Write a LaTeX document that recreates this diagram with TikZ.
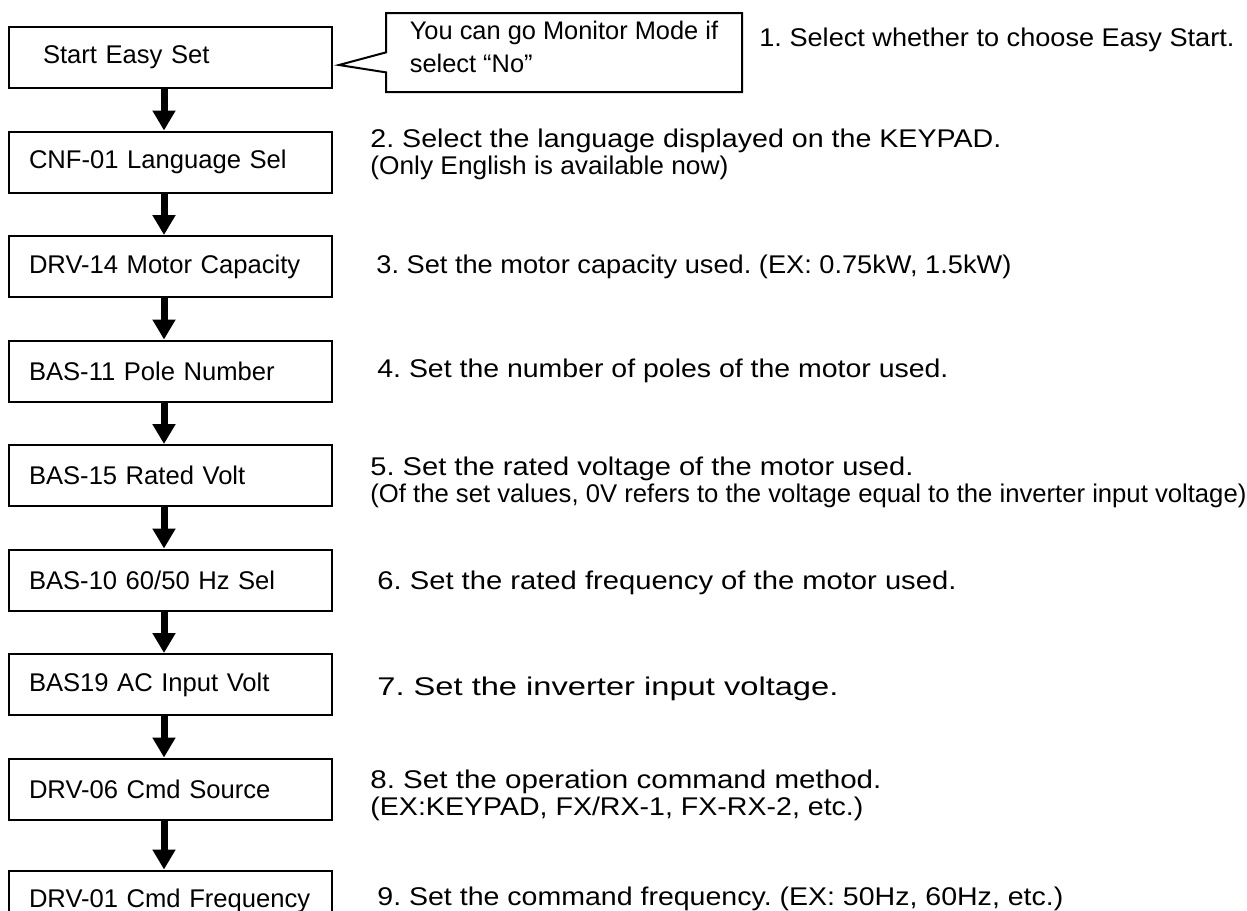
\documentclass[tikz,border=0pt]{standalone}
\usepackage{fontspec}
\usepackage{graphicx}
\setmainfont{Liberation Sans}
\frenchspacing
\usetikzlibrary{arrows.meta, positioning, shapes.callouts}
\newcommand{\fitline}[2]{\resizebox{#1}{\height}{#2}}
\tikzstyle{stepbox} = [rectangle, draw=black, line width=1pt, minimum width=161.5pt, minimum height=30.5pt, text width=141.5pt, inner xsep=10pt, align=left, font=\fontsize{12.8}{15}\selectfont]
\tikzstyle{hint} = [rectangle callout, draw=black, line width=1pt, minimum width=178pt, minimum height=39.5pt, align=left, callout pointer width=10pt, font=\fontsize{12.7}{16.5}\selectfont]
\tikzstyle{note} = [align=left, inner sep=0pt, font=\fontsize{12.8}{13.5}\selectfont]
\tikzstyle{arrow} = [line width=3.5pt, -{Triangle[width=11pt, length=10pt]}]

\begin{document}
\begin{tikzpicture}[x=0.5pt, y=-0.5pt, node distance=20.75pt]
    \useasboundingbox (0,0) rectangle (1247,910);
    \node[stepbox] (start) at (170.5,57.5) {\hspace*{7pt}\raisebox{-2pt}{Start Easy Set}};
    \node[stepbox, below=of start] (lang) {CNF-01 Language Sel};
    \node[stepbox, below=of lang] (cap) {DRV-14 Motor Capacity};
    \node[stepbox, below=of cap] (pole) {BAS-11 Pole Number};
    \node[stepbox, below=of pole] (volt) {BAS-15 Rated Volt};
    \node[stepbox, below=of volt] (hz) {BAS-10 60/50 Hz Sel};
    \node[stepbox, below=of hz] (acin) {BAS19 AC Input Volt};
    \node[stepbox, below=of acin] (src) {DRV-06 Cmd Source};
    \node[stepbox, below=24.5pt of src] (freq) {DRV-01 Cmd Frequency};

    \node[hint, callout absolute pointer={(339,65)}] (monitor) at (564,52.5) {You can go Monitor Mode if\\select “No”\rule[-6pt]{0pt}{0pt}};

    % step notes on the right
    \node[note, right=8pt of monitor, yshift=6.5pt] (n1) {\fitline{237.5pt}{1. Select whether to choose Easy Start.}};
    \node[note, right=18.5pt of lang, yshift=4pt] (n2) {\fitline{315.5pt}{2. Select the language displayed on the KEYPAD.}\\\fitline{179pt}{(Only English is available now)}};
    \node[note, right=21.5pt of cap] (n3) {\fitline{317.5pt}{3. Set the motor capacity used. (EX: 0.75kW, 1.5kW)}};
    \node[note, right=22pt of pole] (n4) {\fitline{285.5pt}{4. Set the number of poles of the motor used.}};
    \node[note, right=18.5pt of volt, yshift=-3.25pt] (n5) {\fitline{271.5pt}{5. Set the rated voltage of the motor used.}\\\fitline{438pt}{(Of the set values, 0V refers to the voltage equal to the inverter input voltage)}};
    \node[note, right=22pt of hz, yshift=-1.5pt] (n6) {\fitline{289.5pt}{6. Set the rated frequency of the motor used.}};
    \node[note, right=22pt of acin, yshift=-2.25pt] (n7) {\fitline{230.5pt}{7. Set the inverter input voltage.}};
    \node[note, right=18.5pt of src, yshift=-3pt] (n8) {\fitline{255.5pt}{8. Set the operation command method.}\\\fitline{246.5pt}{(EX:KEYPAD, FX/RX-1, FX-RX-2, etc.)}};
    \node[note, right=22pt of freq, yshift=1.25pt] (n9) {\fitline{343pt}{9. Set the command frequency. (EX: 50Hz, 60Hz, etc.)}};

    \draw[arrow] ([xshift=-3.25pt]start.south) -- ([xshift=-3.25pt]lang.north);
    \draw[arrow] ([xshift=-3.25pt]lang.south) -- ([xshift=-3.25pt]cap.north);
    \draw[arrow] ([xshift=-3.25pt]cap.south) -- ([xshift=-3.25pt]pole.north);
    \draw[arrow] ([xshift=-3.25pt]pole.south) -- ([xshift=-3.25pt]volt.north);
    \draw[arrow] ([xshift=-3.25pt]volt.south) -- ([xshift=-3.25pt]hz.north);
    \draw[arrow] ([xshift=-3.25pt]hz.south) -- ([xshift=-3.25pt]acin.north);
    \draw[arrow] ([xshift=-3.25pt]acin.south) -- ([xshift=-3.25pt]src.north);
    \draw[arrow] ([xshift=-3.25pt]src.south) -- ([xshift=-3.25pt]freq.north);
\end{tikzpicture}
\end{document}
